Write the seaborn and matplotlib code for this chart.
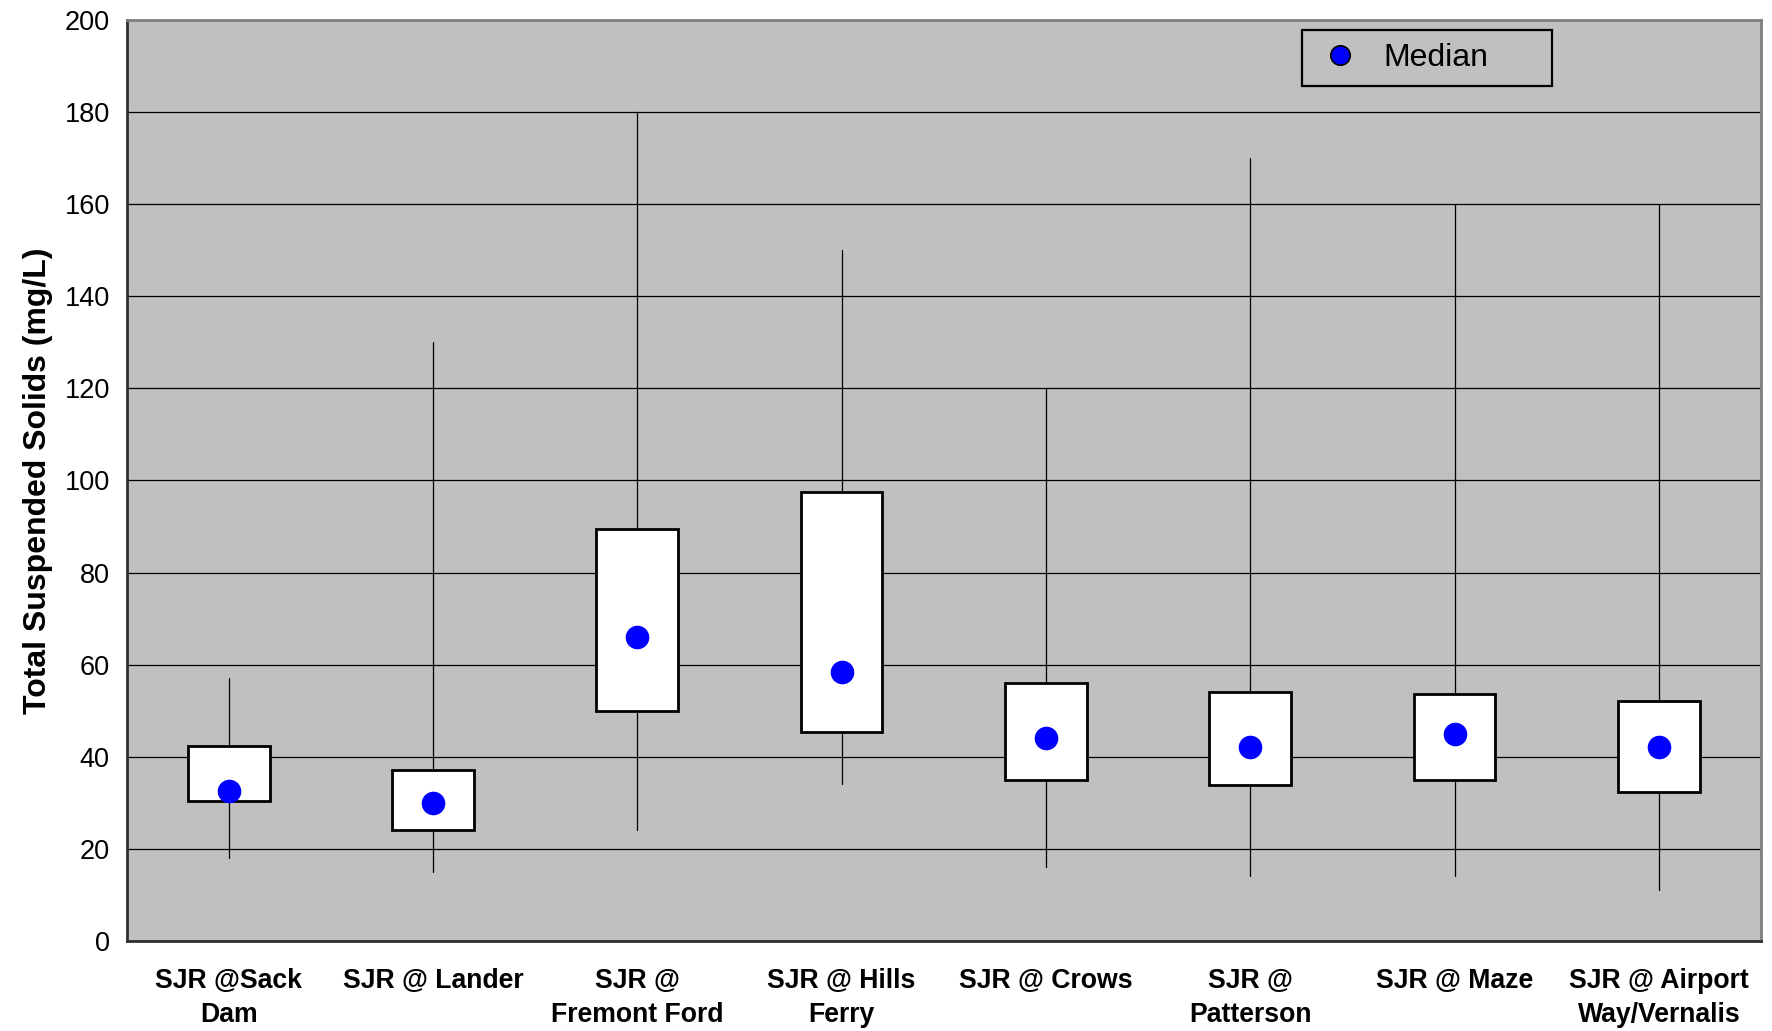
import matplotlib
matplotlib.use("Agg")
import matplotlib.pyplot as plt
from matplotlib.lines import Line2D
import seaborn as sns
import pandas as pd

sites = ["SJR @Sack\nDam", "SJR @ Lander", "SJR @\nFremont Ford", "SJR @ Hills\nFerry",
         "SJR @ Crows", "SJR @\nPatterson", "SJR @ Maze", "SJR @ Airport\nWay/Vernalis"]
whisker_low = [18, 15, 24, 34, 16, 14, 14, 11]
q1 = [30.4, 24, 50, 45.3, 35, 33.8, 35, 32.4]
medians = [32.5, 30, 66, 58.4, 44, 42, 45, 42]
q3 = [42.4, 37, 89.4, 97.6, 56, 54, 53.7, 52]
whisker_high = [57, 130, 180, 150, 120, 170, 160, 160]
y_ticks = [0, 20, 40, 60, 80, 100, 120, 140, 160, 180, 200]

sns.set_style("white")
plt.rcParams['font.family'] = ['Liberation Sans', 'DejaVu Sans']
plt.rcParams['text.color'] = 'black'
plt.rcParams['axes.labelcolor'] = 'black'
plt.rcParams['xtick.color'] = 'black'
plt.rcParams['ytick.color'] = 'black'

fig = plt.figure(figsize=(17.72, 10.31), dpi=100)
ax = fig.add_axes([0.0714, 0.0876, 0.9224, 0.8927])
ax.set_facecolor("#C0C0C0")

df = pd.DataFrame({"site": sites, "median": medians})

stats = []
for i in range(len(sites)):
    stats.append({"med": medians[i], "q1": q1[i], "q3": q3[i],
                  "whislo": whisker_low[i], "whishi": whisker_high[i], "fliers": []})
ax.bxp(stats, positions=list(range(len(sites))), widths=0.40, showcaps=False,
       showfliers=False, patch_artist=True,
       boxprops=dict(facecolor="white", edgecolor="black", linewidth=2.0),
       whiskerprops=dict(color="black", linewidth=0.9),
       medianprops=dict(linewidth=0), manage_ticks=False, zorder=3)

sns.stripplot(data=df, x="site", y="median", jitter=False, color="#0000FF",
              size=17, linewidth=0, ax=ax, zorder=5)

ax.set_xlim(-0.5, len(sites) - 0.5)
ax.set_ylim(0, 200)
ax.set_yticks(y_ticks)
ax.set_yticklabels([str(v) for v in y_ticks], fontsize=19.5)
ax.yaxis.grid(True, color="black", linewidth=0.9)
ax.xaxis.grid(False)
ax.set_axisbelow(True)

ax.set_xticks([i - 0.5 for i in range(len(sites) + 1)])
ax.set_xticklabels([])
ax.set_xticks(list(range(len(sites))), minor=True)
ax.set_xticklabels(sites, minor=True, fontsize=19.2, fontweight="bold", linespacing=1.4)
ax.tick_params(axis="x", which="major", direction="inout", length=16, width=1.2, color="#303030")
ax.tick_params(axis="x", which="minor", length=0, pad=20)
ax.tick_params(axis="y", direction="inout", length=16, width=1.2, color="#303030", pad=4)
ax.set_xlabel("")
ax.set_ylabel("Total Suspended Solids (mg/L)", fontsize=23, fontweight="bold", labelpad=8)

for side in ["left", "bottom"]:
    ax.spines[side].set_color("#303030")
    ax.spines[side].set_linewidth(2.0)
for side in ["top", "right"]:
    ax.spines[side].set_color("#808080")
    ax.spines[side].set_linewidth(2.0)

handle = Line2D([], [], linestyle="none", marker="o", markersize=14,
                markerfacecolor="#0000FF", markeredgecolor="black", markeredgewidth=1.2)
leg = ax.legend([handle], ["Median"], loc="upper left",
                bbox_to_anchor=(0.719, 0.928, 0.153, 0.062), mode="expand",
                borderaxespad=0, fontsize=23, frameon=True, fancybox=False,
                framealpha=1, facecolor="#C0C0C0", edgecolor="black",
                handlelength=1.55, handletextpad=0.6, borderpad=0.42)
leg.get_frame().set_linewidth(1.6)

fig.savefig("out.png", dpi=100, facecolor="white")
